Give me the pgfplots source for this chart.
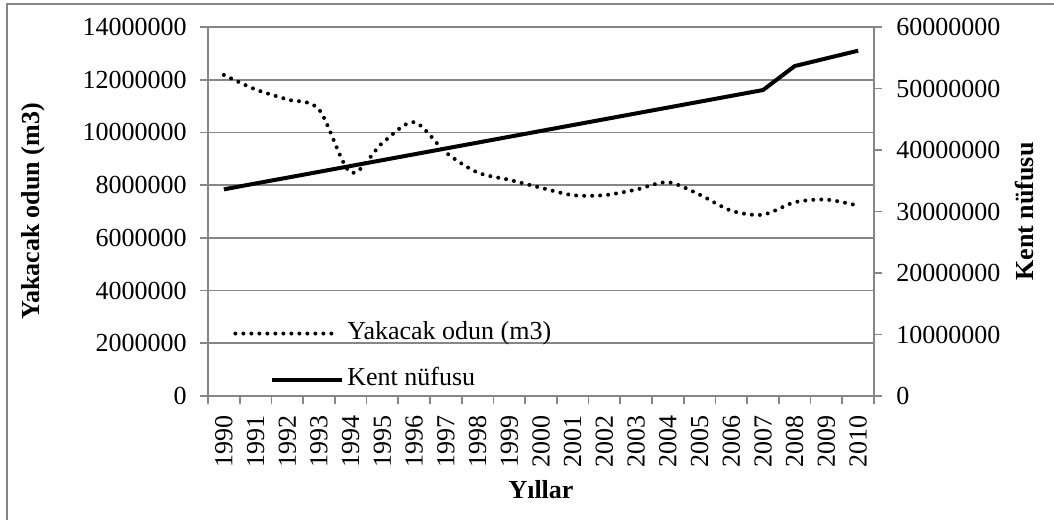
\documentclass[border=0pt]{standalone}
\usepackage{fontspec}
\setmainfont{Liberation Serif}
\usepackage{pgfplots}
\pgfplotsset{compat=1.18}
\definecolor{axgray}{HTML}{868686}
\pgfplotsset{
  legdot/.style={legend image code/.code={\draw[##1] (0pt,0pt) -- (49.5pt,0pt);}},
  legsolid/.style={legend image code/.code={\draw[##1] (18.5pt,0pt) -- (53.5pt,0pt);}},
}
\begin{document}
\fontsize{13}{15}\selectfont
\begin{tikzpicture}
\path[use as bounding box] (0,0) rectangle (527pt,259.5pt);
\draw[axgray, line width=0.6pt] (3.5pt,-5pt) -- (3.5pt,257.5pt) -- (540pt,257.5pt);
\begin{axis}[
  at={(104pt,61.5pt)}, anchor=south west,
  scale only axis, width=333pt, height=184.5pt,
  xmin=-0.5, xmax=20.5, ymin=0, ymax=14000000,
  scaled y ticks=false,
  axis y line*=left, axis x line*=bottom,
  axis line style={axgray, line width=0.8pt},
  every tick/.style={axgray, line width=0.8pt},
  tick align=outside, major tick length=4pt,
  xtick={-0.5,0.5,...,20.5}, xticklabels={},
  extra x ticks={0,1,...,20},
  extra x tick labels={1990,1991,1992,1993,1994,1995,1996,1997,1998,1999,2000,2001,2002,2003,2004,2005,2006,2007,2008,2009,2010},
  extra x tick style={major tick length=0pt, tick label style={yshift=-9.5pt, rotate=90, anchor=east, inner sep=0pt}},
  ytick={0,2000000,4000000,6000000,8000000,10000000,12000000,14000000},
  yticklabels={0,2000000,4000000,6000000,8000000,10000000,12000000,14000000},
  yticklabel style={anchor=east, inner sep=0pt, xshift=-6.5pt},
  ymajorgrids, grid style={axgray, line width=0.8pt},
  ylabel={\bfseries Yakacak odun (m3)},
  ylabel style={at={(axis description cs:-0.2628,0.5)}, anchor=center},
  xlabel={\bfseries Yıllar},
  xlabel style={at={(axis description cs:0.5,-0.2547)}, anchor=center},
]
\addplot[black, line width=2pt, line cap=round, dash pattern=on 0pt off 4pt, smooth, tension=0.5] coordinates {
(0,12180000) (1,11630000) (2,11250000) (3,10870000) (4,8480000) (5,9600000) (6,10390000)
(7,9240000) (8,8480000) (9,8200000) (10,7900000) (11,7620000) (12,7620000) (13,7830000)
(14,8110000) (15,7640000) (16,7030000) (17,6880000) (18,7350000) (19,7450000) (20,7220000)};
\end{axis}
\begin{axis}[
  at={(104pt,61.5pt)}, anchor=south west,
  scale only axis, width=333pt, height=184.5pt,
  xmin=-0.5, xmax=20.5, ymin=0, ymax=60000000,
  scaled y ticks=false,
  axis y line*=right, axis x line=none,
  axis line style={axgray, line width=0.8pt},
  every tick/.style={axgray, line width=0.8pt},
  tick align=outside, major tick length=4pt,
  ytick={0,10000000,20000000,30000000,40000000,50000000,60000000},
  yticklabels={0,10000000,20000000,30000000,40000000,50000000,60000000},
  yticklabel style={anchor=west, inner sep=0pt, xshift=7pt},
  ylabel={\bfseries Kent nüfusu},
  ylabel style={at={(axis description cs:1.226,0.5)}, anchor=center},
  legend style={draw=none, fill=none, at={(axis description cs:0.0375,0.107)}, anchor=west,
    inner sep=0pt, row sep=11pt, cells={anchor=west},
    nodes={inner sep=0pt, text height=9pt, text depth=3pt},
    /tikz/every odd column/.append style={column sep=1.5pt}},
]
\addlegendimage{black, line width=2pt, line cap=round, dash pattern=on 0pt off 4pt, legdot}
\addlegendentry{Yakacak odun (m3)}
\addplot[black, line width=2pt, legsolid] coordinates {
(0,33600000) (1,34560000) (2,35500000) (3,36450000) (4,37400000) (5,38350000) (6,39300000)
(7,40250000) (8,41200000) (9,42150000) (10,43100000) (11,44050000) (12,45000000) (13,45950000)
(14,46900000) (15,47850000) (16,48800000) (17,49750000) (18,53650000) (19,54900000) (20,56150000)};
\addlegendentry{Kent nüfusu}
\end{axis}
\end{tikzpicture}
\end{document}
